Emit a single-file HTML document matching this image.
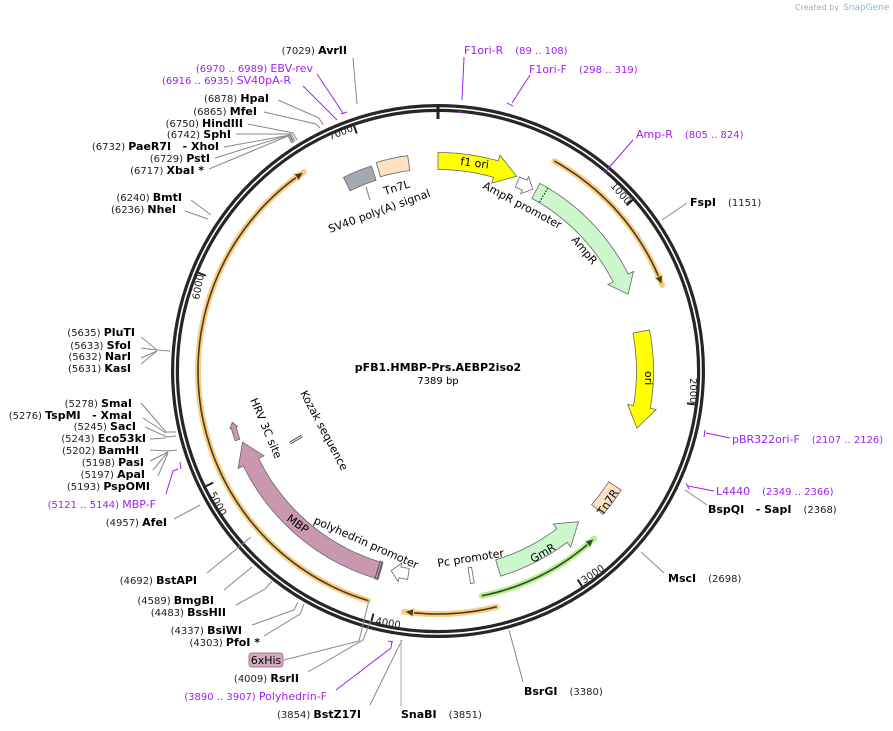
<!DOCTYPE html>
<html><head><meta charset="utf-8"><style>
html,body{margin:0;padding:0;background:#fff}
svg{display:block;font-family:"DejaVu Sans","Liberation Sans",sans-serif}
.n{font-size:10px;fill:#222}
.b{font-size:11px;font-weight:bold;fill:#000}
.p{font-size:11px;fill:#a020f0}
.pn{font-size:10px;fill:#a020f0}
.f{font-size:11px;fill:#000}
.ln{stroke:#888;stroke-width:1;fill:none}
.pl{stroke:#a020f0;stroke-width:1;fill:none}
</style></head><body>
<svg id="s" width="893" height="731" viewBox="0 0 893 731" xmlns="http://www.w3.org/2000/svg">
<text x="795" y="10" style="font-size:8px;fill:#aaa">Created by</text><text x="843" y="10" style="font-size:9px;fill:#8fb5d8">SnapGene</text>
<g id="geo"></g>
<circle cx="438" cy="371" r="263" fill="none" stroke="#262626" stroke-width="8"/>
<circle cx="438" cy="371" r="263" fill="none" stroke="#fff" stroke-width="1.6"/>
<line x1="438" y1="105" x2="438" y2="119" stroke="#222" stroke-width="3"/>
<g id="geo2"></g>
<text x="438" y="371" text-anchor="middle" style="font-size:11px;font-weight:bold">pFB1.HMBP-Prs.AEBP2iso2</text>
<text x="438" y="384" text-anchor="middle" style="font-size:10px">7389 bp</text>
<text class="n" transform="translate(610,186) rotate(49)">1000</text>
<text class="n" transform="translate(690,378) rotate(90)">2000</text>
<text class="n" transform="translate(584,584) rotate(-34)">3000</text>
<text class="n" transform="translate(375,624) rotate(10)">4000</text>
<text class="n" transform="translate(209,494) rotate(62)">5000</text>
<text class="n" transform="translate(199,300) rotate(-79)">6000</text>
<text class="n" transform="translate(330,140) rotate(-21)">7000</text>
<text class="f" transform="translate(460,165) rotate(7)">f1 ori</text>
<text class="f" transform="translate(482,188) rotate(28)">AmpR promoter</text>
<text class="f" transform="translate(571,240) rotate(50)">AmpR</text>
<text class="f" transform="translate(645,371) rotate(90)">ori</text>
<text class="f" transform="translate(603,516) rotate(-56)">Tn7R</text>
<text class="f" transform="translate(533,563) rotate(-30)">GmR</text>
<text class="f" transform="translate(438,567) rotate(-9)">Pc promoter</text>
<text class="f" transform="translate(313,523) rotate(24)">polyhedrin promoter</text>
<text class="f" transform="translate(286,520) rotate(36)">MBP</text>
<text class="f" transform="translate(250,400) rotate(67)">HRV 3C site</text>
<text class="f" transform="translate(300,393) rotate(62)">Kozak sequence</text>
<text class="f" transform="translate(385,195) rotate(-17)">Tn7L</text>
<text class="f" transform="translate(330,233) rotate(-20)">SV40 poly(A) signal</text>
<text x="347" y="54" text-anchor="end"><tspan class="n">(7029) </tspan><tspan class="b">AvrII</tspan></text>
<line class="ln" x1="353" y1="58" x2="357" y2="104"/>
<text x="313" y="72" text-anchor="end"><tspan class="pn">(6970 .. 6989) </tspan><tspan class="p">EBV-rev</tspan></text>
<text x="291" y="84" text-anchor="end"><tspan class="pn">(6916 .. 6935) </tspan><tspan class="p">SV40pA-R</tspan></text>
<polyline class="pl" points="317,74 343,113"/><polyline class="pl" points="303,86 337,120"/>
<line class="pl" x1="341" y1="114" x2="347" y2="112" stroke-width="2"/>
<text x="269" y="102" text-anchor="end"><tspan class="n">(6878) </tspan><tspan class="b">HpaI</tspan></text>
<text x="257" y="115" text-anchor="end"><tspan class="n">(6865) </tspan><tspan class="b">MfeI</tspan></text>
<text x="243" y="127" text-anchor="end"><tspan class="n">(6750) </tspan><tspan class="b">HindIII</tspan></text>
<text x="231" y="138" text-anchor="end"><tspan class="n">(6742) </tspan><tspan class="b">SphI</tspan></text>
<text x="219" y="150" text-anchor="end"><tspan class="n">(6732) </tspan><tspan class="b">PaeR7I&#160;&#160; - XhoI</tspan></text>
<text x="210" y="162" text-anchor="end"><tspan class="n">(6729) </tspan><tspan class="b">PstI</tspan></text>
<text x="204" y="174" text-anchor="end"><tspan class="n">(6717) </tspan><tspan class="b">XbaI *</tspan></text>
<polyline class="ln" points="278,100 319,118 323,125"/>
<polyline class="ln" points="264,112 316,124 320,128"/>
<polyline class="ln" points="248,124 293,133 297,140"/>
<polyline class="ln" points="236,134 291,134 295,141"/>
<polyline class="ln" points="224,147 290,135 294,142"/>
<polyline class="ln" points="215,158 289,135 293,143"/>
<polyline class="ln" points="209,169 288,136 292,143"/>
<text x="182" y="201" text-anchor="end"><tspan class="n">(6240) </tspan><tspan class="b">BmtI</tspan></text>
<text x="176" y="213" text-anchor="end"><tspan class="n">(6236) </tspan><tspan class="b">NheI</tspan></text>
<polyline class="ln" points="191,200 211,215"/><polyline class="ln" points="185,211 208,219"/>
<text x="135" y="336" text-anchor="end"><tspan class="n">(5635) </tspan><tspan class="b">PluTI</tspan></text>
<text x="131" y="349" text-anchor="end"><tspan class="n">(5633) </tspan><tspan class="b">SfoI</tspan></text>
<text x="131" y="360" text-anchor="end"><tspan class="n">(5632) </tspan><tspan class="b">NarI</tspan></text>
<text x="131" y="372" text-anchor="end"><tspan class="n">(5631) </tspan><tspan class="b">KasI</tspan></text>
<polyline class="ln" points="141,337 157,350 170,351"/><polyline class="ln" points="141,348 157,350"/><polyline class="ln" points="141,358 157,351"/><polyline class="ln" points="141,364 157,351"/>
<text x="132" y="407" text-anchor="end"><tspan class="n">(5278) </tspan><tspan class="b">SmaI</tspan></text>
<text x="132" y="419" text-anchor="end"><tspan class="n">(5276) </tspan><tspan class="b">TspMI&#160;&#160; - XmaI</tspan></text>
<text x="136" y="430" text-anchor="end"><tspan class="n">(5245) </tspan><tspan class="b">SacI</tspan></text>
<text x="146" y="442" text-anchor="end"><tspan class="n">(5243) </tspan><tspan class="b">Eco53kI</tspan></text>
<text x="139" y="454" text-anchor="end"><tspan class="n">(5202) </tspan><tspan class="b">BamHI</tspan></text>
<text x="144" y="466" text-anchor="end"><tspan class="n">(5198) </tspan><tspan class="b">PasI</tspan></text>
<text x="145" y="478" text-anchor="end"><tspan class="n">(5197) </tspan><tspan class="b">ApaI</tspan></text>
<text x="150" y="490" text-anchor="end"><tspan class="n">(5193) </tspan><tspan class="b">PspOMI</tspan></text>
<polyline class="ln" points="141,403 166,432 176,432"/><polyline class="ln" points="143,418 166,433"/>
<polyline class="ln" points="145,427 167,437 176,436"/><polyline class="ln" points="150,439 166,438"/>
<polyline class="ln" points="150,450 168,451 177,450"/><polyline class="ln" points="150,461 168,452"/><polyline class="ln" points="153,470 168,452"/><polyline class="ln" points="158,476 168,453"/>
<text x="156" y="508" text-anchor="end"><tspan class="pn">(5121 .. 5144) </tspan><tspan class="p">MBP-F</tspan></text>
<polyline class="pl" points="166,494 173,471 178,469"/><line class="pl" x1="180" y1="462" x2="181" y2="469" stroke-width="2"/>
<text x="167" y="526" text-anchor="end"><tspan class="n">(4957) </tspan><tspan class="b">AfeI</tspan></text>
<line class="ln" x1="174" y1="519" x2="200" y2="505"/>
<text x="197" y="584" text-anchor="end"><tspan class="n">(4692) </tspan><tspan class="b">BstAPI</tspan></text>
<line class="ln" x1="207" y1="573" x2="251" y2="537"/>
<text x="214" y="604" text-anchor="end"><tspan class="n">(4589) </tspan><tspan class="b">BmgBI</tspan></text>
<line class="ln" x1="224" y1="590" x2="252" y2="567"/>
<text x="226" y="616" text-anchor="end"><tspan class="n">(4483) </tspan><tspan class="b">BssHII</tspan></text>
<polyline class="ln" points="236,605 265,589 272,581"/>
<text x="242" y="634" text-anchor="end"><tspan class="n">(4337) </tspan><tspan class="b">BsiWI</tspan></text>
<polyline class="ln" points="252,625 294,610 298,602"/>
<text x="260" y="646" text-anchor="end"><tspan class="n">(4303) </tspan><tspan class="b">PfoI *</tspan></text>
<polyline class="ln" points="264,636 300,614 304,604"/>
<rect x="249" y="653" width="34" height="14" rx="3" fill="#d6aac0" stroke="#a07890"/>
<text x="266" y="664" text-anchor="middle" style="font-size:11px">6xHis</text>
<polyline class="ln" points="284,660 359,641 369,600"/>
<text x="299" y="682" text-anchor="end"><tspan class="n">(4009) </tspan><tspan class="b">RsrII</tspan></text>
<polyline class="ln" points="308,672 363,640 371,620"/>
<text x="327" y="700" text-anchor="end"><tspan class="pn">(3890 .. 3907) </tspan><tspan class="p">Polyhedrin-F</tspan></text>
<polyline class="pl" points="336,690 391,648 392,641"/><line class="pl" x1="388" y1="641" x2="393" y2="642" stroke-width="2"/>
<text x="361" y="718" text-anchor="end"><tspan class="n">(3854) </tspan><tspan class="b">BstZ17I</tspan></text>
<line class="ln" x1="370" y1="705" x2="402" y2="640"/>
<text x="401" y="718"><tspan class="b">SnaBI</tspan><tspan class="n" dx="12">(3851)</tspan></text>
<line x1="401" y1="640" x2="401" y2="706" stroke="#aaa"/>
<text x="524" y="695"><tspan class="b">BsrGI</tspan><tspan class="n" dx="12">(3380)</tspan></text>
<line class="ln" x1="523" y1="682" x2="509" y2="630"/>
<text x="668" y="582"><tspan class="b">MscI</tspan><tspan class="n" dx="12">(2698)</tspan></text>
<line class="ln" x1="664" y1="573" x2="641" y2="552"/>
<text x="708" y="513"><tspan class="b">BspQI&#160;&#160; - SapI</tspan><tspan class="n" dx="12">(2368)</tspan></text>
<line class="ln" x1="707" y1="505" x2="685" y2="490"/>
<text x="716" y="495"><tspan class="p">L4440</tspan><tspan class="pn" dx="12">(2349 .. 2366)</tspan></text>
<line class="pl" x1="714" y1="491" x2="688" y2="486"/><line class="pl" x1="686" y1="483" x2="689" y2="489" stroke-width="2"/>
<text x="732" y="443"><tspan class="p">pBR322ori-F</tspan><tspan class="pn" dx="12">(2107 .. 2126)</tspan></text>
<line class="pl" x1="730" y1="438" x2="706" y2="433"/><line class="pl" x1="705" y1="430" x2="704" y2="437" stroke-width="2"/>
<text x="690" y="206"><tspan class="b">FspI</tspan><tspan class="n" dx="12">(1151)</tspan></text>
<line class="ln" x1="687" y1="203" x2="662" y2="220"/>
<text x="636" y="138"><tspan class="p">Amp-R</tspan><tspan class="pn" dx="12">(805 .. 824)</tspan></text>
<line class="pl" x1="633" y1="140" x2="607" y2="170"/><line class="pl" x1="603" y1="170" x2="607" y2="173" stroke-width="2"/>
<text x="529" y="73"><tspan class="p">F1ori-F</tspan><tspan class="pn" dx="12">(298 .. 319)</tspan></text>
<line class="pl" x1="530" y1="75" x2="512" y2="103"/><line class="pl" x1="507" y1="103" x2="513" y2="106" stroke-width="2"/>
<text x="464" y="54"><tspan class="p">F1ori-R</tspan><tspan class="pn" dx="12">(89 .. 108)</tspan></text>
<line class="pl" x1="464" y1="57" x2="462" y2="100"/><line class="pl" x1="458" y1="112" x2="463" y2="112" stroke-width="2"/>
</svg>
<script>
var NS="http://www.w3.org/2000/svg",cx=438,cy=371;
function P(a,r){a=a*Math.PI/180;return [cx+r*Math.sin(a),cy-r*Math.cos(a)];}
function arcPts(a1,a2,r){var p=[],n=Math.max(2,Math.ceil(Math.abs(a2-a1)));for(var i=0;i<=n;i++)p.push(P(a1+(a2-a1)*i/n,r));return p;}
function add(g,tag,at){var e=document.createElementNS(NS,tag);for(var k in at)e.setAttribute(k,at[k]);document.getElementById(g).appendChild(e);return e;}
function ps(p){return p.map(function(q){return q[0].toFixed(1)+","+q[1].toFixed(1)}).join(" ");}
function feat(a1,a2,r,w,head,dir,fill,hw){hw=hw==null?w*0.35:hw;var p=[],o=r+w/2,i=r-w/2;
 if(dir==1){var b=a2-head;p=arcPts(a1,b,o);p.push(P(b,o+hw));p.push(P(a2,r));p.push(P(b,i-hw));p=p.concat(arcPts(b,a1,i));}
 else if(dir==-1){var b=a1+head;p=arcPts(b,a2,o).concat(arcPts(a2,b,i));p.push(P(b,i-hw));p.push(P(a1,r));p.push(P(b,o+hw));}
 else{p=arcPts(a1,a2,o).concat(arcPts(a2,a1,i));}
 add("geo","polygon",{points:ps(p),fill:fill,stroke:"#666","stroke-width":0.8});}
function line(a1,a2,r,col,halo,dir){var p=arcPts(a1,a2,r);
 add("geo","polyline",{points:ps(p),fill:"none",stroke:halo,"stroke-width":6,"stroke-linecap":"round"});
 add("geo","polyline",{points:ps(dir==1?arcPts(a1,a2-1.5,r):arcPts(a1+1.5,a2,r)),fill:"none",stroke:col,"stroke-width":1.6});
 var t=dir==1?a2:a1,b=dir==1?a2-2.2:a1+2.2;
 add("geo","polygon",{points:ps([P(b,r+4),P(t,r),P(b,r-4)]),fill:col,stroke:halo,"stroke-width":1});}
line(29,69,240,"#4a3a20","#f9cd82",1);
line(166,188,243,"#4a3a20","#f9cd82",1);
line(197,326,240,"#4a3a20","#f9cd82",1);
line(137,169,229,"#2f4a20","#b8ef8e",-1);
feat(0,22,210,17,6,1,"#ffff00");
feat(22.8,27.5,205,11,2.5,1,"#ffffff");
feat(28.5,68,205,17,5,1,"#ccf7cc");
feat(79,106,207,17,6,1,"#ffff00");
feat(123,131,211,15,0,0,"#fde1c2");
feat(137,163,206,17,6,-1,"#ccf7cc");
feat(170.3,171.3,207,16,0,0,"#ffffff");
feat(188.3,193.2,205,11,2.5,1,"#ffffff");
feat(196,250,208,17,6,1,"#c898b0");
feat(251,256,212,5,1.5,1,"#c898b0",1.5);
feat(334,342,208,15,0,0,"#a3a9b0");
feat(343.5,352,210,15,0,0,"#fde1c2");
var a=P(31,197),b=P(31,213);add("geo","line",{x1:a[0],y1:a[1],x2:b[0],y2:b[1],stroke:"#000","stroke-dasharray":"1.5,1.5"});
[196.3,196.9].forEach(function(t){var a=P(t,198),b=P(t,218);add("geo","line",{x1:a[0],y1:a[1],x2:b[0],y2:b[1],stroke:"#555"});});
add("geo","line",{x1:290,y1:443,x2:302,y2:436,stroke:"#555","stroke-width":3});
add("geo","line",{x1:290,y1:443,x2:302,y2:436,stroke:"#fff","stroke-width":1});
add("geo","line",{x1:366,y1:187,x2:370,y2:200,stroke:"#777"});
[48.7,97.4,146.2,194.9,243.6,292.3,341.1].forEach(function(t){var a=P(t,259),b=P(t,251);add("geo2","line",{x1:a[0],y1:a[1],x2:b[0],y2:b[1],stroke:"#222","stroke-width":2});});
</script>
</body></html>
